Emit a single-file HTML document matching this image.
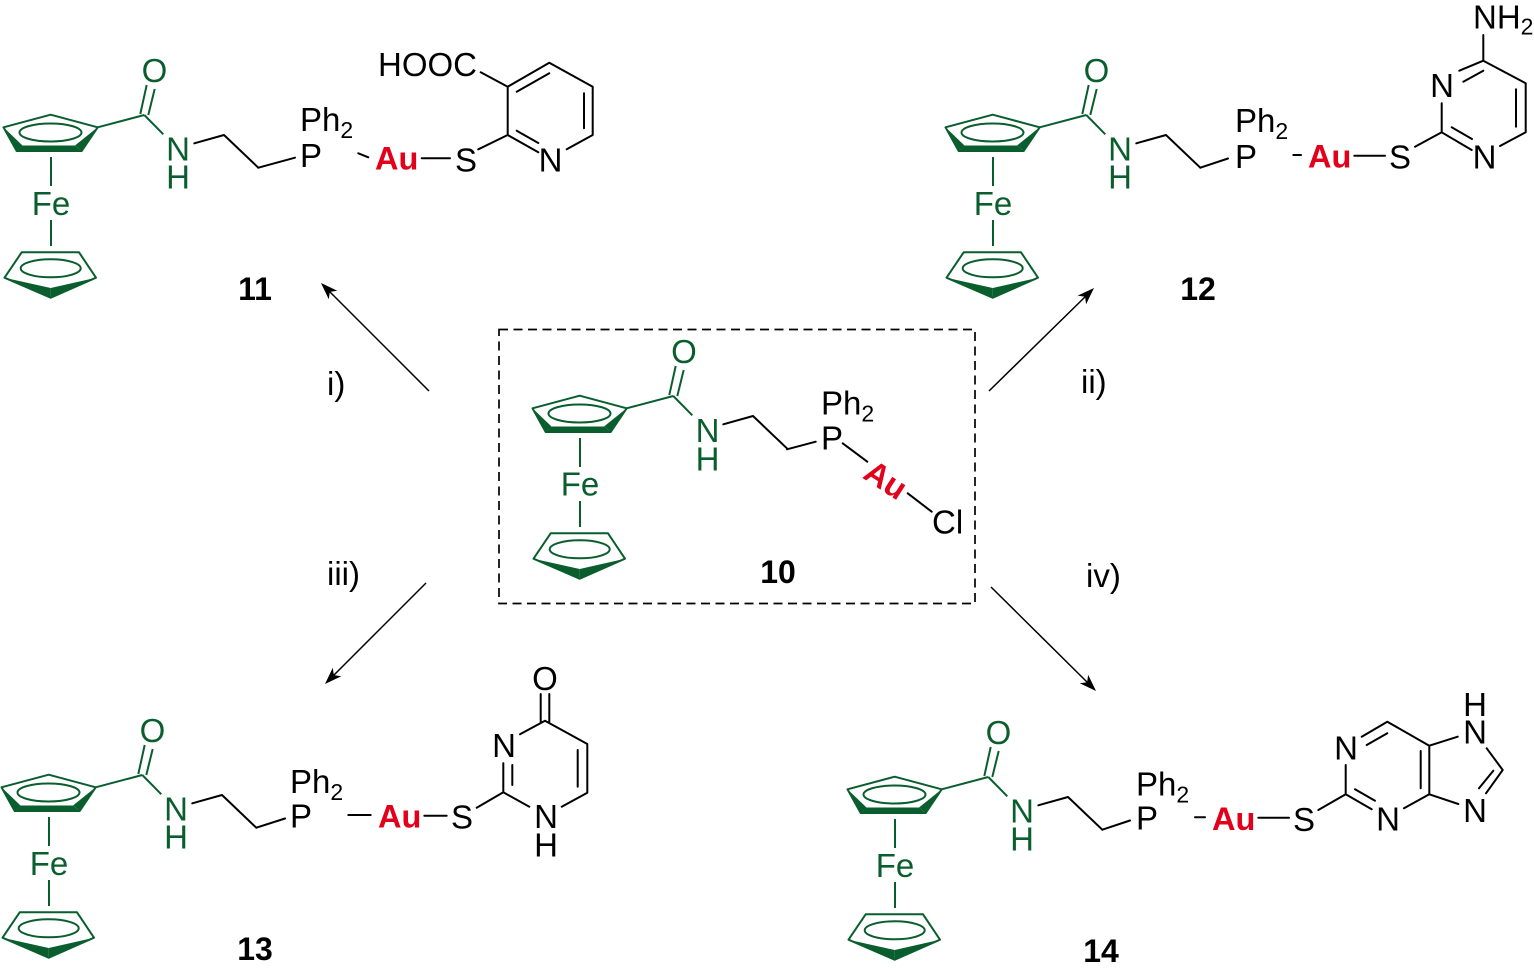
<!DOCTYPE html>
<html><head><meta charset="utf-8"><style>
html,body{margin:0;padding:0;background:#fff}
svg{display:block}
text{font-family:"Liberation Sans",Arial,sans-serif;font-size:33px}
.g{fill:#0a5e2e}
.k{fill:#000}
.a{fill:#e2001a;font-weight:bold;font-size:32.500px}
.b{font-weight:bold;font-size:32px;fill:#000}
.s{font-size:23px}
.m{text-anchor:middle}
.kl{stroke:#000;stroke-width:2;fill:none;stroke-linecap:round;stroke-linejoin:round}
</style></head><body>
<svg width="1534" height="970" viewBox="0 0 1534 970" xmlns="http://www.w3.org/2000/svg">
<defs>
<g id="fc">
 <g fill="none" stroke="#0a5e2e" stroke-width="2" stroke-linejoin="round">
  <polygon points="3.500,127.300 50.700,114.700 97.700,127.300 81.700,151 16.700,151"/>
  <ellipse cx="50.500" cy="132.500" rx="31" ry="9"/>
  <path d="M97.700,127.300L144.300,115M140.300,114L146.700,85M148.300,115L154.700,89M144.300,115L163.300,134.300M51,157V186M51,220V246"/>
  <polygon points="21.700,252.300 79,252.300 96,277.700 50.700,297.700 4.500,277.700"/>
  <ellipse cx="50.700" cy="268.300" rx="30" ry="9"/>
 </g>
 <g fill="#0a5e2e">
  <polygon points="3.500,127.300 16.700,151 23,146"/>
  <polygon points="16.700,151 81.700,151 75,145.500 23,145.500"/>
  <polygon points="97.700,127.300 81.700,151 75,145.500"/>
  <polygon points="4.500,277.700 50.700,297.700 50.700,288"/>
  <polygon points="96,277.700 50.700,297.700 50.700,288"/>
 </g>
 <path class="kl" d="M194.300,143.300L224,135L258.300,167.700"/>
</g>
<path id="ah" d="M0,0L-17,-6L-12.500,0L-17,6Z" fill="#000"/>
</defs>
<rect width="1534" height="970" fill="#fff"/>

<!-- Molecule 11 -->
<use href="#fc"/>
<text class="g m" x="154.500" y="82">O</text>
<text class="g m" x="178" y="160.500">N</text>
<text class="g m" x="178" y="188.500">H</text>
<text class="g m" x="51" y="215">Fe</text>
<path class="kl" d="M258.300,167.700L295,157.700"/>
<text class="k" x="300" y="167">P</text>
<text class="k" x="300" y="131">Ph<tspan class="s" dy="7">2</tspan></text>
<path class="kl" d="M358.300,153.300L368.300,157.300M421.700,158.300H450M478.300,149.300L507.700,135V86.700L549.300,62.700L592.700,86.700V135L566.700,149.300M507.700,135L538.300,152.300M516.700,91.700L549.300,73.300M584,93.300V128.300M516.700,130.700L538.300,143M507.700,86.700L480.700,72.300"/>
<text class="a" x="375" y="169.300">Au</text>
<text class="k" x="455" y="171.500">S</text>
<text class="k m" x="550.500" y="171.500">N</text>
<text class="k" x="378" y="76">HOOC</text>
<text class="b m" x="255" y="300">11</text>

<!-- Molecule 12 -->
<use href="#fc" x="942"/>
<text class="g m" x="1096.500" y="82">O</text>
<text class="g m" x="1120" y="160.500">N</text>
<text class="g m" x="1120" y="188.500">H</text>
<text class="g m" x="993" y="215">Fe</text>
<path class="kl" d="M1200.300,167.700L1228,158.500"/>
<text class="k" x="1235" y="168">P</text>
<text class="k" x="1235" y="132">Ph<tspan class="s" dy="7">2</tspan></text>
<path class="kl" d="M1293.300,155H1301M1354.300,155.700H1385M1415,146.700L1441.700,132.300V103.300M1459.300,70.700L1483.300,60.700L1525.700,83.300V132.300L1500,146M1441.700,132.300L1471.700,150M1483.300,60.700V35M1516,89.300V126.700M1451.700,127.300L1472,139M1463.300,81.700L1483.300,70.700"/>
<text class="a" x="1308" y="167.700">Au</text>
<text class="k" x="1389" y="168.500">S</text>
<text class="k m" x="1442" y="97">N</text>
<text class="k m" x="1484.500" y="168.500">N</text>
<text class="k" x="1473" y="28.500">NH<tspan class="s" dy="6">2</tspan></text>
<text class="b m" x="1198" y="300">12</text>

<!-- Molecule 10 -->
<use href="#fc" x="529" y="281"/>
<text class="g m" x="684" y="363">O</text>
<text class="g m" x="707.500" y="442">N</text>
<text class="g m" x="707.500" y="470.300">H</text>
<text class="g m" x="580" y="495.500">Fe</text>
<path class="kl" d="M787,449.300L815.700,441.700M842.700,443.300L867.300,461.700M907.700,493.300L931.700,511.700"/>
<text class="k" x="821" y="449.500">P</text>
<text class="k" x="821" y="414.500">Ph<tspan class="s" dy="7">2</tspan></text>
<text class="a m" transform="translate(886,479.500) rotate(33)" x="0" y="11.500">Au</text>
<text class="k" x="932" y="533.500">Cl</text>
<text class="b m" x="778" y="583">10</text>
<rect x="499" y="329.500" width="476" height="274" fill="none" stroke="#000" stroke-width="1.700" stroke-dasharray="9 5.500"/>

<!-- Molecule 13 -->
<use href="#fc" x="-2" y="660"/>
<text class="g m" x="152.500" y="742">O</text>
<text class="g m" x="176" y="820.500">N</text>
<text class="g m" x="176" y="848.500">H</text>
<text class="g m" x="49" y="875">Fe</text>
<path class="kl" d="M256.300,827.700L285,818.500M348.300,815H370.700M424.300,815.700H446.700M476.700,807.700L503.300,792.300V763.300M512.300,765V785M520,734.300L545,720.700L587.300,744V792.700L561.700,806.700M503.300,792.300L529.300,806.700M540.700,721.700V694M549.300,721.700V694M577.700,750V786.700"/>
<text class="k" x="290" y="827.500">P</text>
<text class="k" x="290" y="793">Ph<tspan class="s" dy="7">2</tspan></text>
<text class="a" x="378" y="827.700">Au</text>
<text class="k" x="451" y="828.500">S</text>
<text class="k m" x="504" y="757">N</text>
<text class="k m" x="545" y="690">O</text>
<text class="k m" x="546" y="828">N</text>
<text class="k m" x="546" y="856.300">H</text>
<text class="b m" x="255" y="960">13</text>

<!-- Molecule 14 -->
<use href="#fc" x="844" y="662"/>
<text class="g m" x="998.500" y="744">O</text>
<text class="g m" x="1022" y="822.500">N</text>
<text class="g m" x="1022" y="850.500">H</text>
<text class="g m" x="895" y="877">Fe</text>
<path class="kl" d="M1102.300,829.700L1130,820.500M1195,817.300H1205M1258.300,817.700H1289M1318.300,810L1345.700,794.300V765M1361.700,736.700L1387.300,721.700L1429.300,745.700V794.300L1404,808.300M1345.700,794.300L1371.700,809.300M1366.700,745L1387.300,733.300M1420.700,751V788.300M1355,789.300L1375,800.700M1429.300,745.700L1457.700,736.700M1486.700,748.300L1502.700,770L1486,793.300M1493.300,770.700L1479,788.300M1429.300,794.300L1458.300,804"/>
<text class="k" x="1136" y="829.500">P</text>
<text class="k" x="1136" y="795.500">Ph<tspan class="s" dy="7">2</tspan></text>
<text class="a" x="1212" y="830">Au</text>
<text class="k" x="1293" y="831">S</text>
<text class="k m" x="1346" y="759.500">N</text>
<text class="k m" x="1388" y="830.500">N</text>
<text class="k m" x="1475" y="716">H</text>
<text class="k m" x="1475" y="743.500">N</text>
<text class="k m" x="1475" y="822">N</text>
<text class="b m" x="1101" y="962">14</text>

<!-- Arrows -->
<g stroke="#000" stroke-width="1.500" fill="none">
<path d="M429,391L328,290M989,391L1087,295M426,583L332,677M991,587L1089,684"/>
</g>
<use href="#ah" transform="translate(321,283) rotate(225)"/>
<use href="#ah" transform="translate(1094,288) rotate(-44.500)"/>
<use href="#ah" transform="translate(325,684) rotate(135)"/>
<use href="#ah" transform="translate(1096,691) rotate(44.700)"/>
<text class="k" x="327" y="395">i)</text>
<text class="k" x="1081" y="393">ii)</text>
<text class="k" x="327" y="585">iii)</text>
<text class="k" x="1086" y="587">iv)</text>
</svg>
</body></html>
